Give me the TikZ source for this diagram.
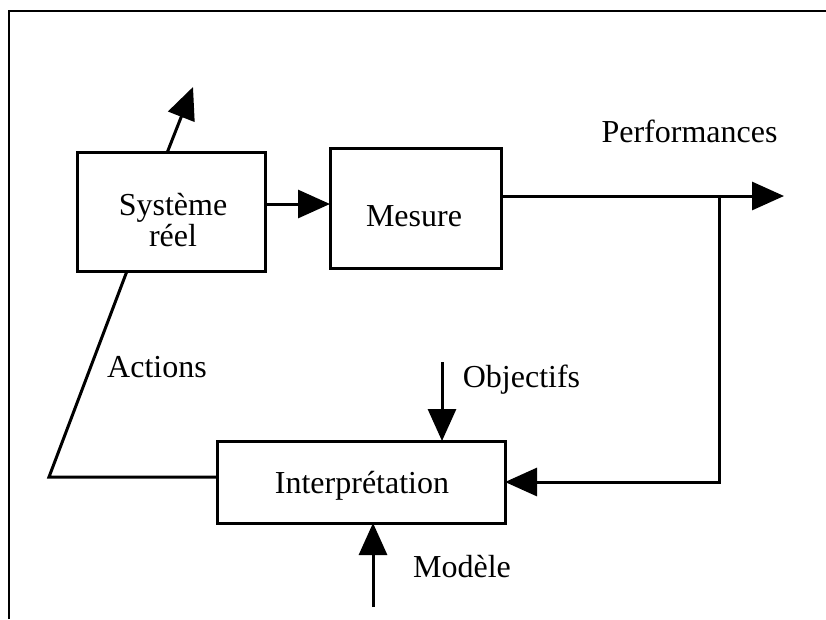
\documentclass[tikz,border=0pt]{standalone}
\usepackage{fontspec}
\setmainfont{Liberation Serif}
\usetikzlibrary{arrows.meta}
\begin{document}
\begin{tikzpicture}[x=1pt,y=-1pt,
  box/.style={draw, line width=3pt, inner sep=0pt},
  lbl/.style={inner sep=0pt, anchor=base, font=\fontsize{32}{32}\selectfont},
  conn/.style={line width=3pt},
  arr/.style={line width=3pt, -{Triangle[length=32pt,width=28pt]}}]
\useasboundingbox (0,0) rectangle (826,619);
% frame
\coordinate (fbl) at (9,619);
\coordinate (ftl) at (9,11);
\coordinate (ftr) at (826,11);
\draw[line width=2.5pt] (fbl) -- (ftl) -- (ftr);
% boxes
\node[box, minimum width=188pt, minimum height=119pt] (sys) at (171,211.5) {};
\node[box, minimum width=171pt, minimum height=120pt] (mes) at (415.5,208) {};
\node[box, minimum width=288pt, minimum height=82pt] (int) at (361,482) {};
% texts
\node[lbl] (t1) at (173,215) {Système};
\node[lbl] (t2) at (173,246) {réel};
\node[lbl] (t3) at (414,226) {Mesure};
\node[lbl] (t4) at (362,493) {Interprétation};
\node[lbl] (t5) at (689.5,142) {Performances};
\node[lbl] (t6) at (521.5,387) {Objectifs};
\node[lbl] (t7) at (157,377) {Actions};
\node[lbl] (t8) at (462,577) {Modèle};
% coordinates
\coordinate (s1) at (167,153);
\coordinate (s2) at (193,87);
\coordinate (a1) at (265,204);
\coordinate (a2) at (330,204);
\coordinate (m1) at (501,196);
\coordinate (br) at (719,196);
\coordinate (pt) at (784,196);
\coordinate (bd) at (719,482);
\coordinate (ie) at (505,482);
\coordinate (o1) at (442,362);
\coordinate (o2) at (442,441);
\coordinate (md1) at (373,607);
\coordinate (md2) at (373,523);
\coordinate (iw) at (217,477);
\coordinate (ac) at (49,477);
\coordinate (sb) at (127,271);
% connectors
\draw[arr] (s1) -- (s2);
\draw[arr] (a1) -- (a2);
\draw[arr] (m1) -- (pt);
\draw[arr] (br) -- (bd) -- (ie);
\draw[arr] (o1) -- (o2);
\draw[arr] (md1) -- (md2);
\draw[conn] (iw) -- (ac) -- (sb);
\end{tikzpicture}
\end{document}
